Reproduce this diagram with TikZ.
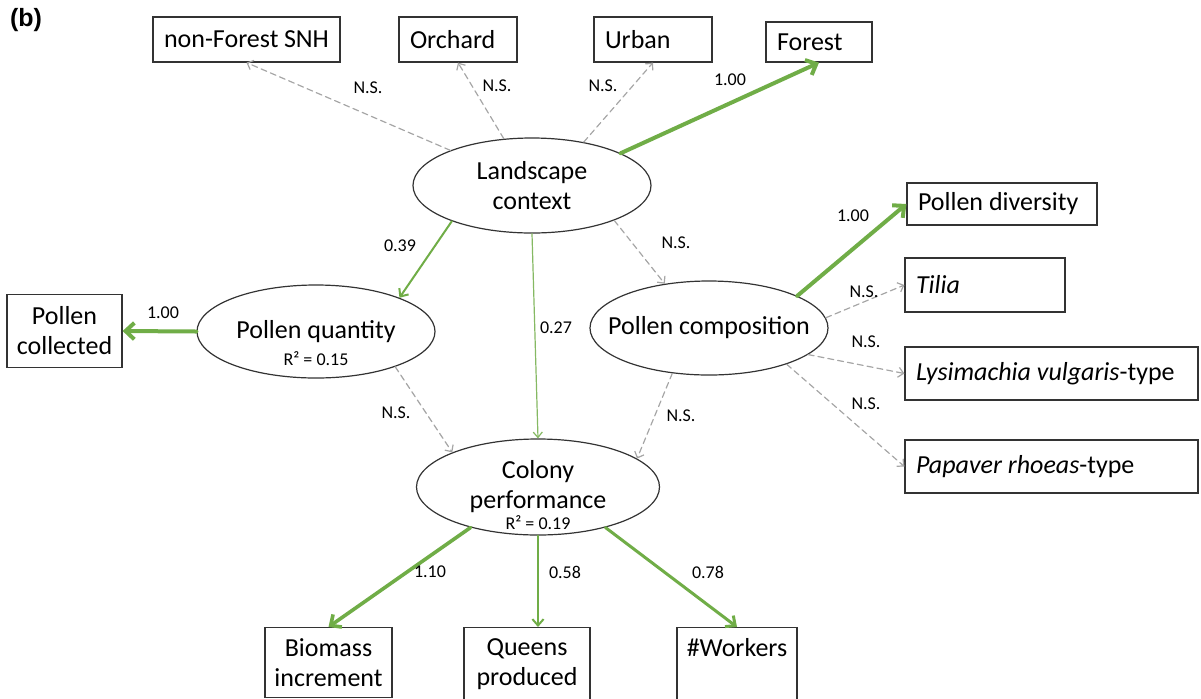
\documentclass[tikz,border=0pt]{standalone}
\usepackage{fontspec}
\setmainfont{Carlito}
\newfontfamily\panelfont{Liberation Sans}
\usetikzlibrary{shapes.geometric,arrows.meta}
\definecolor{pathgreen}{RGB}{112,173,71}
\definecolor{nsgray}{RGB}{166,166,166}
\tikzset{
  var/.style={draw=black!80, line width=0.6pt, font=\fontsize{13}{15}\selectfont, align=center, inner sep=0pt},
  obs/.style={var, rectangle},
  leftbox/.style={obs, text width=#1, align=flush left, inner xsep=5.5pt},
  bottombox/.style={obs, anchor=north, minimum width=#1, inner ysep=5.5pt},
  latent/.style={var, ellipse, inner xsep=-10pt},
  coef/.style={font=\fontsize{9}{10}\selectfont, inner sep=1pt},
  ns/.style={nsgray, line width=0.6pt, dash pattern=on 3pt off 2pt, -{Straight Barb[length=2.6pt, width=5pt]}},
  sig/.style={pathgreen, line width=#1, -{Straight Barb[length=2pt 1.2, width=3pt 2.6]}}
}
\begin{document}
\begin{tikzpicture}[x=0.5pt, y=-0.5pt, line cap=round]
\path[use as bounding box] (0,0) rectangle (1201,698);
\node[inner sep=0pt, font=\panelfont\bfseries\fontsize{12.5}{14}\selectfont] (panel) at (26,20) {(b)};
% indicators of landscape context
\node[leftbox=82.5pt, minimum height=22.5pt] (nfs) at (246.5,39.5) {non-Forest SNH};
\node[leftbox=48pt, minimum height=22.5pt] (orch) at (458,39.5) {Orchard};
\node[leftbox=48pt, minimum height=22.5pt] (urban) at (653,39.5) {Urban};
\node[leftbox=42pt, minimum height=20pt] (forest) at (819,42) {Forest};
% latent variables
\node[latent, minimum width=119pt, minimum height=47.5pt] (land) at (532,185.5) {Landscape\\context};
\node[latent, minimum width=119pt, minimum height=46.5pt,
      label={[coef, inner sep=0pt, label distance=-13.5pt]below:R² = 0.15}] (pq) at (316,331.5) {Pollen quantity};
\node[latent, minimum width=119pt, minimum height=47pt] (pc) at (709,328) {Pollen composition};
\node[latent, minimum width=121.5pt, minimum height=48pt,
      label={[coef, inner sep=0pt, label distance=-10pt]below:R² = 0.19}] (col) at (538,487) {Colony\\performance};
% pollen indicators
\node[obs, minimum width=57.5pt, minimum height=36.5pt] (pcoll) at (64.5,331) {Pollen\\collected};
\node[leftbox=84pt, minimum height=21pt] (pdiv) at (1002,204) {Pollen diversity};
\node[leftbox=69pt, minimum height=27pt] (tilia) at (985,285) {\textit{Tilia}};
\node[leftbox=135.5pt, minimum height=26.5pt] (lysi) at (1051.5,373.5) {\textit{Lysimachia vulgaris}-type};
\node[leftbox=135.5pt, minimum height=26.5pt] (papa) at (1051.5,466.5) {\textit{Papaver rhoeas}-type};
% colony indicators
\node[bottombox=63.5pt] (bio) at (328.5,627) {Biomass\\increment};
\node[bottombox=63pt] (queens) at (527,627) {Queens\\produced};
\node[bottombox=60pt, text depth=18pt] (workers) at (737,627) {\#Workers};
% paths
\draw[ns] (land) -- (nfs.south);
\draw[ns] (land) -- (orch.south);
\draw[ns] (land.40) -- (urban.south);
\draw[sig=2pt] (land.20) -- (forest.south);
\draw[sig=1pt] (land.204) -- (pq.22);
\draw[sig=0.6pt, pathgreen!85] (land.south) -- (col.north);
\draw[ns] (land.-23) -- (pc.135);
\draw[sig=2pt] (pq.west) -- (pcoll.east);
\draw[sig=2pt] (pc.20) -- (pdiv.west);
\draw[ns] (pc.5) -- (tilia.west);
\draw[ns] (pc.-15) -- (lysi.west);
\draw[ns] (pc.-25) -- (papa.west);
\draw[ns] (pq.-24) -- (col.158);
\draw[ns] (pc.231) -- (col.16);
\draw[sig=1.8pt] (col.211) -- (bio.north);
\draw[sig=1pt] (col.south) -- (col.south |- queens.north);
\draw[sig=1.5pt] (col.-31) -- (workers.north);
% coefficients
\node[coef] (c1) at (368,88) {N.S.};
\node[coef] (c2) at (497,86) {N.S.};
\node[coef] (c3) at (603,86) {N.S.};
\node[coef] (c4) at (730,80) {1.00};
\node[coef] (c5) at (400,246) {0.39};
\node[coef] (c6) at (556,328) {0.27};
\node[coef] (c7) at (676,243) {N.S.};
\node[coef] (c8) at (853,216) {1.00};
\node[coef] (c9) at (163,313) {1.00};
\node[coef] (c10) at (864,292) {N.S.};
\node[coef] (c11) at (866,342) {N.S.};
\node[coef] (c12) at (866,404) {N.S.};
\node[coef] (c13) at (396,413) {N.S.};
\node[coef] (c14) at (681,416) {N.S.};
\node[coef] (c15) at (430,572) {1.10};
\node[coef] (c16) at (565,572) {0.58};
\node[coef] (c17) at (708,572) {0.78};
\end{tikzpicture}
\end{document}
